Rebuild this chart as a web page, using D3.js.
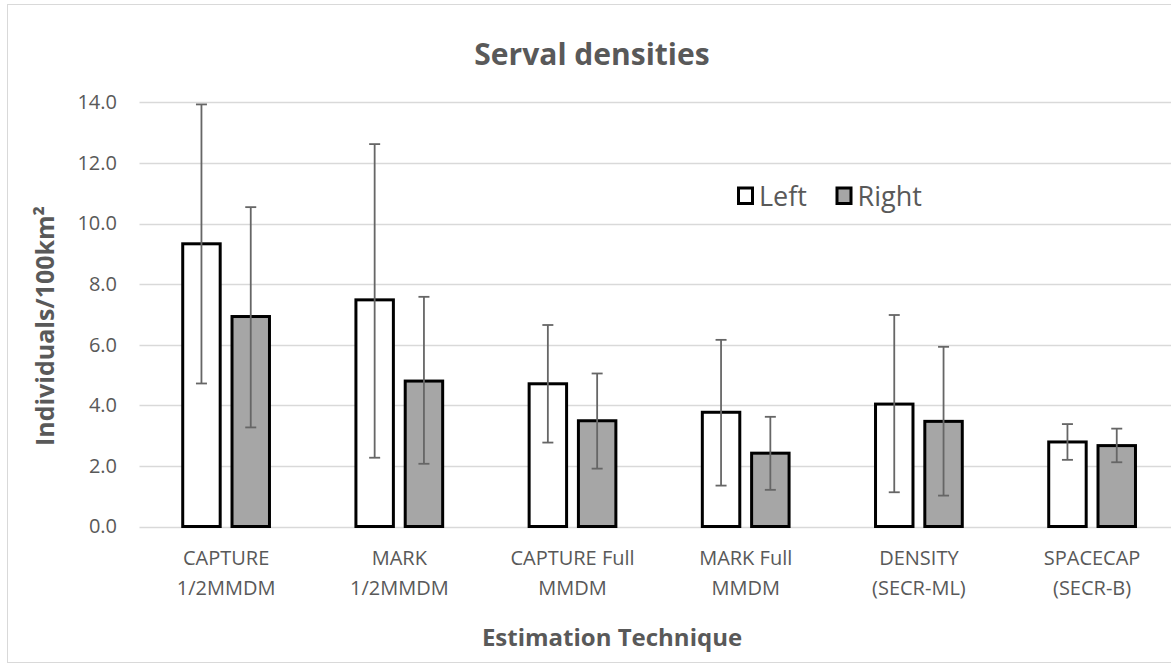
<!DOCTYPE html>
<html>
<head>
<meta charset="utf-8">
<script src="https://cdn.jsdelivr.net/npm/d3@7"></script>
<style>
  html, body { margin: 0; padding: 0; background: #fff; }
  svg { display: block; font-family: "Open Sans", sans-serif; }
</style>
</head>
<body>
<svg id="chart" width="1171" height="666"></svg>
<script>
// Serval density estimates (individuals per 100 km²) by estimation technique
const categories = [
  ["CAPTURE", "1/2MMDM"],
  ["MARK", "1/2MMDM"],
  ["CAPTURE Full", "MMDM"],
  ["MARK Full", "MMDM"],
  ["DENSITY", "(SECR-ML)"],
  ["SPACECAP", "(SECR-B)"]
];
const seriesNames = ["Left", "Right"];

const leftValues  = [9.33, 7.48, 4.71, 3.77, 4.04, 2.79];
const leftLower   = [4.72, 2.27, 2.77, 1.35, 1.13, 2.20];
const leftUpper   = [13.93, 12.62, 6.65, 6.16, 6.98, 3.38];

const rightValues = [6.93, 4.80, 3.49, 2.42, 3.47, 2.67];
const rightLower  = [3.27, 2.07, 1.91, 1.21, 1.02, 2.12];
const rightUpper  = [10.54, 7.58, 5.05, 3.62, 5.93, 3.23];

const yTicks = [0, 2, 4, 6, 8, 10, 12, 14];

const textColor = "#595959";
const gridColor = "#d9d9d9";
const fills = { Left: "#ffffff", Right: "#a6a6a6" };

const svg = d3.select("#chart");

// chart frame (runs past the right edge of the page)
svg.append("rect")
  .attr("x", 7.5).attr("y", 4.5)
  .attr("width", 1200).attr("height", 658)
  .attr("fill", "#fff").attr("stroke", gridColor).attr("stroke-width", 1);

const plot = { left: 139.5, right: 1178.7, top: 102.3, bottom: 526.5 };

const x0 = d3.scaleBand()
  .domain(categories.map((c, i) => i))
  .range([plot.left, plot.right])
  .paddingInner(0).paddingOuter(0);

const x1 = d3.scaleBand()
  .domain(seriesNames)
  .range([0, x0.bandwidth()])
  .paddingInner(0.24)
  .paddingOuter(0.877);

const y = d3.scaleLinear().domain([0, 14]).range([plot.bottom, plot.top]);

// horizontal gridlines
svg.append("g")
  .selectAll("line")
  .data(yTicks)
  .join("line")
  .attr("x1", plot.left).attr("x2", plot.right)
  .attr("y1", d => Math.round(y(d)) + 0.5).attr("y2", d => Math.round(y(d)) + 0.5)
  .attr("stroke", gridColor).attr("stroke-width", 1.3);

// y axis tick labels
const yAxis = d3.axisLeft(y).tickValues(yTicks).tickFormat(d3.format(".1f")).tickSize(0).tickPadding(0);
const yAxisG = svg.append("g")
  .attr("transform", `translate(117,0)`)
  .call(yAxis);
yAxisG.select(".domain").remove();
yAxisG.selectAll("text")
  .attr("fill", textColor)
  .style("font-size", "20px")
  .style("font-family", "'Open Sans', sans-serif");

// series data
const rows = categories.map((c, i) => ({
  i,
  bars: [
    { name: "Left", v: leftValues[i], lo: leftLower[i], hi: leftUpper[i] },
    { name: "Right", v: rightValues[i], lo: rightLower[i], hi: rightUpper[i] }
  ]
}));

const groups = svg.append("g")
  .selectAll("g")
  .data(rows)
  .join("g")
  .attr("transform", d => `translate(${x0(d.i)},0)`);

// bars
groups.selectAll("rect")
  .data(d => d.bars)
  .join("rect")
  .attr("x", d => x1(d.name))
  .attr("width", x1.bandwidth())
  .attr("y", d => y(d.v))
  .attr("height", d => y(0) - y(d.v))
  .attr("fill", d => fills[d.name])
  .attr("stroke", "#000")
  .attr("stroke-width", 3);

// error bars
const capHalf = 5.5;
const errColor = "#666666";
const eb = groups.selectAll("g.err")
  .data(d => d.bars)
  .join("g")
  .attr("class", "err")
  .attr("transform", d => `translate(${x1(d.name) + x1.bandwidth() / 2},0)`);
eb.append("line")
  .attr("x1", 0).attr("x2", 0)
  .attr("y1", d => y(d.lo)).attr("y2", d => y(d.hi))
  .attr("stroke", errColor).attr("stroke-width", 1.8);
eb.append("line")
  .attr("x1", -capHalf).attr("x2", capHalf)
  .attr("y1", d => y(d.hi)).attr("y2", d => y(d.hi))
  .attr("stroke", errColor).attr("stroke-width", 1.8);
eb.append("line")
  .attr("x1", -capHalf).attr("x2", capHalf)
  .attr("y1", d => y(d.lo)).attr("y2", d => y(d.lo))
  .attr("stroke", errColor).attr("stroke-width", 1.8);

// category labels (two lines each)
const catLabels = svg.append("g")
  .selectAll("text")
  .data(categories.map((c, i) => ({ c, i })))
  .join("text")
  .attr("text-anchor", "middle")
  .attr("fill", textColor)
  .style("font-size", "20px");
catLabels.each(function(d) {
  const t = d3.select(this);
  const cx = x0(d.i) + x0.bandwidth() / 2;
  d.c.forEach((line, k) => {
    t.append("tspan")
      .attr("x", cx)
      .attr("y", 565 + k * 30)
      .text(line);
  });
});

// chart title
svg.append("text")
  .attr("x", 592).attr("y", 65)
  .attr("text-anchor", "middle")
  .attr("fill", textColor)
  .style("font-size", "30px").style("font-weight", "bold")
  .text("Serval densities");

// axis titles
svg.append("text")
  .attr("x", 612).attr("y", 646)
  .attr("text-anchor", "middle")
  .attr("fill", textColor)
  .style("font-size", "24px").style("font-weight", "bold")
  .text("Estimation Technique");

svg.append("text")
  .attr("transform", "translate(54,326) rotate(-90)")
  .attr("text-anchor", "middle")
  .attr("fill", textColor)
  .style("font-size", "25px").style("font-weight", "bold")
  .text("Individuals/100km²");

// legend
const legendItems = [
  { name: "Left", x: 737 },
  { name: "Right", x: 835.5 }
];
const lg = svg.append("g")
  .selectAll("g")
  .data(legendItems)
  .join("g")
  .attr("transform", d => `translate(${d.x},188)`);
lg.append("rect")
  .attr("x", 1.5).attr("y", 0)
  .attr("width", 14).attr("height", 15.5)
  .attr("fill", d => fills[d.name])
  .attr("stroke", "#000").attr("stroke-width", 3);
lg.append("text")
  .attr("x", 22).attr("y", 17.5)
  .attr("fill", textColor)
  .style("font-size", "27px")
  .text(d => d.name);
</script>
</body>
</html>
